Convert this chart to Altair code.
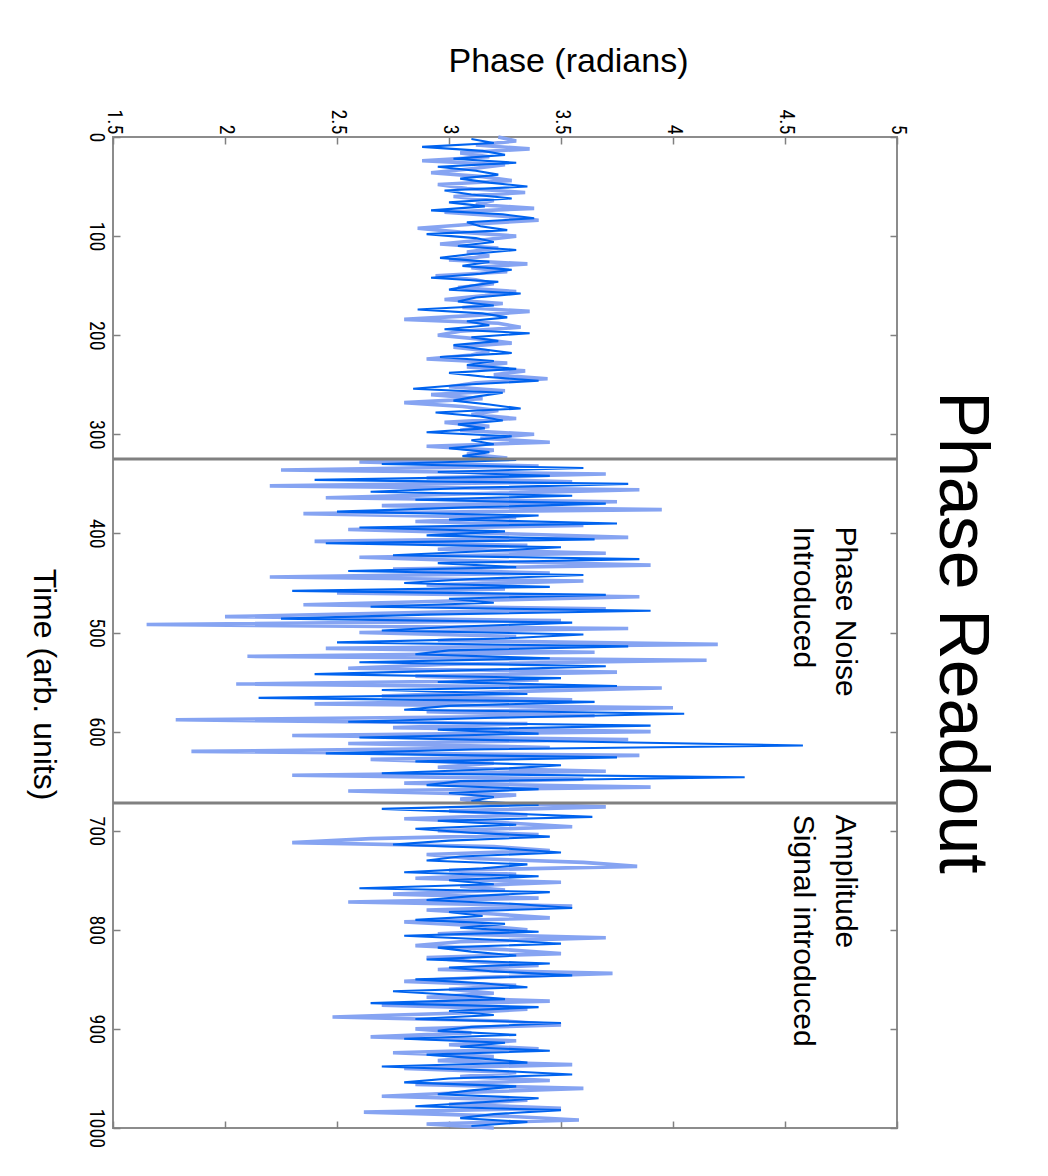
import altair as alt
import pandas as pd

# ---------------- data ----------------
# light-blue trace, one sample every 4 time units (t = 0..1000)
TIME_LIGHT = list(range(0, 1001, 4))
PHASE_LIGHT = [
    # t 0 - 324
    3.22, 3.30, 3.12, 3.36, 3.05, 3.18, 2.88, 3.25, 3.10, 2.92,
    3.15, 3.28, 2.95, 3.08, 3.34, 3.02, 3.20, 3.12, 3.38, 2.98,
    3.24, 3.40, 3.10, 2.86, 3.05, 3.30, 3.15, 2.96, 3.22, 3.08,
    3.18, 3.00, 3.35, 3.10, 3.26, 2.94, 3.12, 3.20, 3.04, 3.30,
    3.16, 2.98, 3.24, 3.06, 3.36, 3.12, 2.80, 3.22, 3.32, 3.05,
    2.95, 3.14, 3.28, 3.02, 3.18, 3.10, 2.90, 3.26, 3.08, 3.34,
    3.20, 3.44, 3.12, 3.00, 3.25, 2.92, 3.15, 2.80, 3.06, 3.22,
    3.10, 3.30, 2.98, 3.18, 3.05, 3.38, 3.14, 3.45, 2.90, 3.20,
    3.08, 3.26,
    # t 328 - 672
    2.60, 3.40, 2.25, 3.70, 2.90, 3.55, 2.20, 3.85, 3.10, 2.45,
    3.75, 2.70, 3.95, 2.35, 3.30, 2.85, 3.60, 2.55, 3.20, 3.80,
    2.40, 3.35, 2.95, 3.70, 2.60, 3.15, 3.90, 2.75, 3.45, 2.20,
    3.60, 2.90, 3.25, 2.50, 3.85, 3.05, 2.35, 3.70, 2.80, 2.00,
    3.50, 1.65, 3.80, 2.60, 3.30, 2.95, 4.20, 2.45, 3.65, 2.10,
    4.15, 3.00, 2.55, 3.75, 2.85, 3.40, 2.05, 3.95, 3.20, 2.70,
    3.55, 2.40, 4.00, 2.90, 3.65, 1.78, 3.35, 2.75, 3.90, 2.30,
    3.80, 2.55, 3.45, 1.85, 3.85, 2.65, 3.20, 2.95, 3.70, 2.30,
    3.60, 2.80, 3.90, 2.55, 3.30, 3.05, 3.15,
    # t 676 - 1000
    3.70, 3.00, 3.35, 2.80, 3.25, 3.55, 2.95, 3.40, 2.65, 2.30,
    3.20, 3.45, 2.90, 3.10, 3.60, 3.84, 3.00, 3.30, 2.85, 3.50,
    3.05, 3.25, 2.75, 3.40, 2.55, 3.55, 2.90, 3.20, 3.45, 2.80,
    3.15, 3.35, 2.95, 3.70, 3.05, 2.85, 3.25, 3.50, 2.90, 3.10,
    3.40, 2.95, 3.73, 3.15, 2.80, 3.30, 3.00, 3.20, 2.90, 3.45,
    2.70, 3.35, 3.05, 2.48, 3.25, 3.50, 2.85, 3.10, 2.65, 3.30,
    3.00, 3.40, 2.75, 3.20, 2.95, 3.55, 2.80, 3.30, 3.05, 3.45,
    2.85, 3.60, 3.10, 2.70, 3.35, 3.00, 3.50, 2.62, 3.25, 3.58,
    2.90, 3.20,
]

# dark-blue trace, one sample every 4 time units (t = 2..998)
TIME_DARK = list(range(2, 1000, 4))
PHASE_DARK = [
    # t 2 - 322
    3.10, 3.20, 2.88, 3.15, 3.25, 3.02, 3.30, 2.95, 3.12, 3.22,
    3.05, 3.18, 3.35, 2.98, 3.10, 3.28, 3.00, 3.16, 2.92, 3.24,
    3.38, 3.08, 3.14, 3.26, 2.90, 3.12, 3.20, 3.04, 3.30, 3.10,
    2.96, 3.18, 3.06, 3.28, 3.14, 2.92, 3.22, 3.10, 3.00, 3.32,
    3.12, 3.04, 3.20, 2.86, 3.15, 3.26, 3.08, 3.18, 2.98, 3.36,
    3.10, 3.22, 3.02, 3.14, 3.28, 2.96, 3.20, 3.08, 3.30, 3.00,
    3.16, 3.40, 3.06, 2.84, 3.24, 3.12, 3.02, 3.18, 3.32, 2.94,
    3.14, 3.24, 3.04, 3.16, 2.90, 3.28, 3.10, 3.20, 3.00, 3.18,
    3.06,
    # t 326 - 670
    3.30, 2.70, 3.60, 2.95, 3.45, 2.40, 3.80, 3.10, 2.65, 3.55,
    2.85, 3.70, 3.05, 2.50, 3.40, 3.00, 3.75, 2.60, 3.25, 2.90,
    3.65, 2.45, 3.50, 3.15, 2.75, 3.85, 2.95, 3.30, 2.55, 3.60,
    3.10, 2.80, 3.45, 2.30, 3.70, 3.00, 3.20, 2.65, 3.90, 2.90,
    2.25, 3.55, 3.05, 2.70, 3.60, 3.25, 2.50, 3.80, 3.00, 2.85,
    3.45, 2.60, 3.70, 3.10, 2.40, 3.50, 2.95, 3.75, 2.70, 3.35,
    2.15, 3.65, 3.00, 2.80, 4.05, 3.20, 2.55, 3.90, 2.95, 3.40,
    2.60, 3.55, 4.58, 3.10, 2.45, 3.75, 2.85, 3.50, 3.20, 2.70,
    4.32, 3.05, 2.90, 3.40, 3.00, 3.20, 3.10,
    # t 674 - 998
    3.40, 2.70, 3.20, 3.64, 2.95, 3.30, 2.85, 3.10, 3.45, 3.00,
    2.75, 3.25, 3.50, 3.05, 2.90, 3.35, 3.15, 2.80, 3.40, 3.00,
    3.20, 2.60, 3.45, 3.10, 2.90, 3.30, 3.55, 3.00, 3.15, 2.85,
    3.25, 3.05, 3.40, 2.80, 3.20, 3.50, 2.95, 3.10, 3.30, 2.90,
    3.45, 3.00, 3.20, 3.55, 2.85, 3.15, 3.35, 2.75, 3.05, 3.25,
    2.65, 3.40, 3.00, 3.20, 2.85, 3.50, 3.10, 2.95, 3.30, 2.80,
    3.25, 3.05, 3.45, 2.90, 3.15, 3.35, 2.70, 3.20, 3.55, 3.00,
    2.80, 3.30, 3.10, 2.95, 3.40, 3.15, 2.85, 3.50, 3.20, 3.05,
    3.35, 3.10,
]

MARKER_TIMES = [325, 672]
TIME_TICKS = [0, 100, 200, 300, 400, 500, 600, 700, 800, 900, 1000]
PHASE_TICKS = [1.5, 2, 2.5, 3, 3.5, 4, 4.5, 5]

NOTE_TEXT = ["Phase Noise", "Introduced", "Amplitude", "Signal introduced"]
NOTE_TIME = [393, 393, 684, 684]
NOTE_PHASE = [4.77, 4.58, 4.77, 4.58]

# ---------------- tables ----------------
light = pd.DataFrame({"t": TIME_LIGHT, "phase": PHASE_LIGHT})
dark = pd.DataFrame({"t": TIME_DARK, "phase": PHASE_DARK})
markers = pd.DataFrame({"t": MARKER_TIMES})
notes = pd.DataFrame({"label": NOTE_TEXT, "t": NOTE_TIME, "phase": NOTE_PHASE})

LIGHT = "#86a4f2"
DARK = "#0063ef"
GREY = "#808080"
FONT = "Liberation Sans"
TICKFONT = "Liberation Sans Narrow, Roboto Condensed, Liberation Sans"

XS = alt.Scale(domain=[1.5, 5], nice=False, zero=False)
YS = alt.Scale(domain=[0, 1000], nice=False, zero=False, reverse=True)

x_main = alt.Axis(
    orient="top", values=PHASE_TICKS, format="~g",
    labelAngle=90, labelAlign="right", labelBaseline="middle",
    labelPadding=3, labelFlush=False, labelOverlap=False,
    labelFontSize=20, labelFont=TICKFONT, labelColor="black",
    tickSize=7, tickColor=GREY, tickWidth=1.5, offset=-7,
    domain=False, grid=False,
    title="Phase (radians)", titleAngle=0, titleFontSize=34,
    titleFont=FONT, titleFontWeight="normal", titleColor="black",
    titleAlign="center", titleBaseline="alphabetic",
    titleX=455, titleY=-73,
)
y_main = alt.Axis(
    orient="left", values=TIME_TICKS, format="d",
    labelAngle=90, labelAlign="center", labelBaseline="top",
    labelPadding=8, labelFlush=False, labelOverlap=False,
    labelFontSize=20, labelFont=TICKFONT, labelColor="black",
    tickSize=7, tickColor=GREY, tickWidth=1.5, offset=-7,
    domain=False, grid=False,
    title="Time (arb. units)", titleAngle=90, titleBaseline="top",
    titleAlign="center", titleX=-62, titleY=547,
    titleFontSize=32, titleFont=FONT, titleFontWeight="normal",
    titleColor="black",
)
x_mirror = alt.Axis(
    orient="bottom", values=PHASE_TICKS, labels=False,
    tickSize=7, tickColor=GREY, tickWidth=1.5, offset=-7,
    domain=False, grid=False, title="",
)
y_mirror = alt.Axis(
    orient="right", values=TIME_TICKS, labels=False,
    tickSize=7, tickColor=GREY, tickWidth=1.5, offset=-7,
    domain=False, grid=False, title="",
)

light_line = alt.Chart(light).mark_line(
    color=LIGHT, strokeWidth=3.6
).encode(
    x=alt.X("phase:Q", scale=XS, axis=x_main),
    y=alt.Y("t:Q", scale=YS, axis=y_main),
    order=alt.Order("t:Q"),
)

dark_line = alt.Chart(dark).mark_line(
    color=DARK, strokeWidth=2.1
).encode(
    x=alt.X("phase:Q", scale=XS, axis=None),
    y=alt.Y("t:Q", scale=YS, axis=None),
    order=alt.Order("t:Q"),
)

rules = alt.Chart(markers).mark_rule(color=GREY, strokeWidth=3).encode(
    y=alt.Y("t:Q", scale=YS, axis=None),
)

note_layer = alt.Chart(notes).mark_text(
    angle=90, align="left", baseline="middle", fontSize=30, font=FONT, color="black"
).encode(
    x=alt.X("phase:Q", scale=XS, axis=None),
    y=alt.Y("t:Q", scale=YS, axis=None),
    text="label:N",
)

mirror = alt.Chart(light).mark_point(opacity=0).encode(
    x=alt.X("phase:Q", scale=XS, axis=x_mirror),
    y=alt.Y("t:Q", scale=YS, axis=y_mirror),
)

chart = alt.layer(
    light_line, dark_line, rules, note_layer, mirror
).resolve_axis(
    x="independent", y="independent"
).properties(
    width=784,
    height=991,
    autosize=alt.AutoSizeParams(type="none"),
    padding={"left": 105, "top": 129, "right": 143, "bottom": 30},
    background="white",
    title=alt.TitleParams(
        "Phase Readout", orient="right", anchor="middle", fontSize=70,
        font=FONT, fontWeight="normal", color="black", offset=18,
    ),
).configure_view(stroke="#8c8c8c", strokeWidth=2)

chart.save("out.html", embed_options={"renderer": "svg", "actions": False})
